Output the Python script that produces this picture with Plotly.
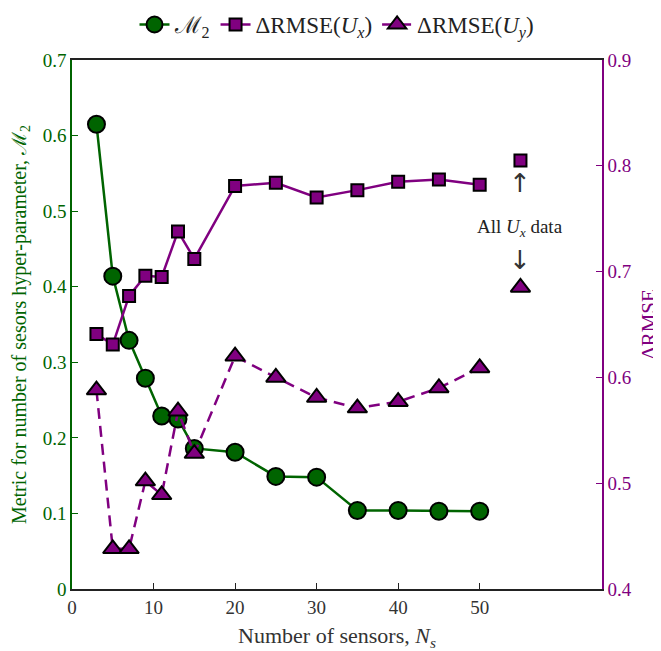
import plotly.graph_objects as go

sensors = [3, 5, 7, 9, 11, 13, 15, 20, 25, 30, 35, 40, 45, 50]
m2 = [0.615, 0.414, 0.329, 0.279, 0.229, 0.225, 0.186, 0.181, 0.149, 0.148, 0.104, 0.104, 0.103, 0.103]
rmse_ux = [0.641, 0.631, 0.677, 0.696, 0.695, 0.738, 0.712, 0.781, 0.784, 0.770, 0.777, 0.785, 0.787, 0.782]
rmse_uy = [0.588, 0.438, 0.438, 0.502, 0.489, 0.568, 0.528, 0.620, 0.600, 0.581, 0.571, 0.577, 0.590, 0.609]
all_x = [55]
all_ux = [0.805]
all_uy = [0.685]

GREEN = "#006400"
PURPLE = "#800080"
FONT = "Liberation Serif"

fig = go.Figure()
fig.add_trace(go.Scatter(
    x=sensors, y=m2, name="ℳ<sub>2</sub>", mode="lines+markers",
    line=dict(color=GREEN, width=2.5),
    marker=dict(symbol="circle", size=17, color=GREEN, line=dict(color="black", width=2)),
))
fig.add_trace(go.Scatter(
    x=sensors, y=rmse_ux, name="ΔRMSE(<i>U<sub>x</sub></i>)", mode="lines+markers", yaxis="y2",
    line=dict(color=PURPLE, width=2.5),
    marker=dict(symbol="square", size=12, color=PURPLE, line=dict(color="black", width=2)),
))
fig.add_trace(go.Scatter(
    x=sensors, y=rmse_uy, name="ΔRMSE(<i>U<sub>y</sub></i>)", mode="lines+markers", yaxis="y2",
    line=dict(color=PURPLE, width=2.5, dash="11px,7px"),
    marker=dict(symbol="triangle-up", size=17, color=PURPLE, line=dict(color="black", width=2)),
))
fig.add_trace(go.Scatter(
    x=all_x, y=all_ux, mode="markers", yaxis="y2", showlegend=False,
    marker=dict(symbol="square", size=12, color=PURPLE, line=dict(color="black", width=2)),
))
fig.add_trace(go.Scatter(
    x=all_x, y=all_uy, mode="markers", yaxis="y2", showlegend=False,
    marker=dict(symbol="triangle-up", size=17, color=PURPLE, line=dict(color="black", width=2)),
))

ann_font = dict(family=FONT, size=19, color="#222")
arrow_font = dict(family="DejaVu Sans", size=26, color="#333")
fig.add_annotation(x=55, y=0.784, xref="x", yref="y2", text="↑", showarrow=False, font=arrow_font)
fig.add_annotation(x=55, y=0.741, xref="x", yref="y2", text="All <i>U<sub>x</sub></i> data",
                   showarrow=False, font=ann_font)
fig.add_annotation(x=55, y=0.711, xref="x", yref="y2", text="↓", showarrow=False, font=arrow_font)

fig.update_layout(
    width=653, height=643,
    margin=dict(l=64, r=59, t=52, b=62, autoexpand=False),
    plot_bgcolor="white", paper_bgcolor="white",
    font=dict(family=FONT, size=18, color="black"),
    legend=dict(orientation="h", x=0.5, xanchor="center", y=1.067, yanchor="middle",
                font=dict(family=FONT, size=23, color="#222"), bgcolor="rgba(0,0,0,0)"),
    xaxis=dict(range=[0, 65], tickvals=[0, 10, 20, 30, 40, 50], showgrid=False, zeroline=False,
               automargin=False,
               showline=True, linecolor="#222", linewidth=1.5, mirror=True,
               ticks="inside", ticklen=6, tickcolor="#222",
               tickfont=dict(family=FONT, size=19, color="#333"),
               title=dict(text="Number of sensors, <i>N<sub>s</sub></i>", font=dict(family=FONT, size=22, color="#333"))),
    yaxis=dict(range=[0, 0.7], tickvals=[0, 0.1, 0.2, 0.3, 0.4, 0.5, 0.6, 0.7],
               ticktext=["0", "0.1", "0.2", "0.3", "0.4", "0.5", "0.6", "0.7"],
               showgrid=False, zeroline=False, automargin=False,
               showline=True, linecolor=GREEN, linewidth=1.5,
               ticks="inside", ticklen=6, tickcolor=GREEN,
               tickfont=dict(family=FONT, size=19, color=GREEN),
               title=dict(text="Metric for number of sesors hyper-parameter, ℳ<sub>2</sub>",
                          font=dict(family=FONT, size=20, color=GREEN))),
    yaxis2=dict(range=[0.4, 0.9], tickvals=[0.4, 0.5, 0.6, 0.7, 0.8, 0.9], overlaying="y", side="right",
                showgrid=False, zeroline=False, automargin=False,
                showline=True, linecolor=PURPLE, linewidth=1.5,
                ticks="inside", ticklen=6, tickcolor=PURPLE,
                tickfont=dict(family=FONT, size=19, color=PURPLE),
                title=dict(text="ΔRMSE", font=dict(family=FONT, size=21, color=PURPLE))),
)

fig.write_html("out.html")
